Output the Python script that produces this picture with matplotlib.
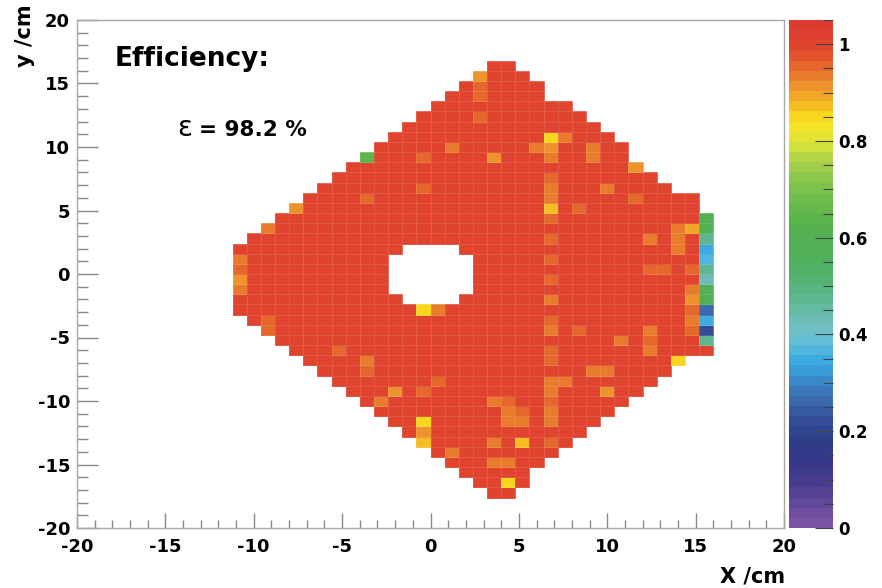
import numpy as np
import matplotlib
matplotlib.use("Agg")
import matplotlib.pyplot as plt
from matplotlib.colors import LinearSegmentedColormap, ListedColormap, Normalize
from matplotlib.ticker import MultipleLocator

plt.rcParams['font.family'] = ['DejaVu Sans']
plt.rcParams['axes.unicode_minus'] = False

# 50 x 50 bins of 0.8 cm over [-20, 20]
n_bins = 50
x_min, x_max = -20, 20
z_max = 1.05

# detector outline: filled rows (lowest, highest) for each column index
col_index = list(range(11, 45))
row_lo = [21, 20, 19, 18, 17, 16, 15, 14, 13, 12, 11, 10, 9, 8, 7, 6, 5, 4, 3, 3,
          4, 6, 7, 8, 9, 10, 11, 12, 13, 14, 15, 16, 17, 17]
row_hi = [27, 28, 29, 30, 31, 32, 33, 34, 35, 36, 37, 38, 39, 40, 41, 42, 43, 44, 45, 45,
          44, 43, 41, 41, 40, 39, 38, 37, 35, 34, 33, 32, 32, 30]

# central hole (beam pipe)
hole_col = [22, 23, 24, 25, 26, 27]
hole_lo = [23, 22, 22, 22, 22, 23]
hole_hi = [26, 27, 27, 27, 27, 26]

base_eff = 0.995

# cells that differ from full efficiency (column, row, efficiency)
cell_col = [44, 44, 44, 44, 44, 44, 44, 44, 44, 44, 44, 44, 44,
            43, 43, 43, 43, 43, 43, 43,
            42, 42, 42, 42,
            41, 40, 40, 40, 40, 40,
            39, 39, 38, 37, 37, 37, 36, 36, 36, 35, 35, 34, 34,
            33, 33, 33, 33, 33, 33, 33, 33, 33, 33, 33, 33, 33, 33, 33,
            33, 33, 33, 33, 33, 33, 33,
            32, 31, 31, 31, 30, 30, 30, 30, 30,
            29, 29, 29, 29, 28, 28, 28, 28,
            26, 26, 25, 25, 24, 24, 24, 24, 24, 24, 24,
            22, 21, 20, 20, 20, 20, 18, 15, 13, 13, 13,
            11, 11, 11, 11]
cell_row = [30, 29, 28, 27, 26, 25, 24, 23, 22, 21, 20, 19, 18,
            29, 25, 23, 22, 21, 20, 19,
            29, 28, 27, 16,
            25, 28, 25, 19, 18, 17,
            35, 32, 18, 33, 15, 13, 37, 36, 15, 31, 19, 38, 14,
            38, 37, 36, 34, 33, 32, 31, 30, 24, 22, 19, 14, 13, 11, 10,
            28, 26, 20, 17, 16, 12, 8,
            37, 11, 10, 8, 12, 11, 10, 6, 4,
            36, 12, 8, 6, 44, 43, 42, 40,
            37, 7, 21, 14, 36, 33, 21, 13, 10, 9, 8,
            13, 12, 36, 32, 16, 15, 17, 31, 29, 20, 19,
            26, 25, 24, 23]
cell_eff = [0.60, 0.59, 0.48, 0.35, 0.37, 0.47, 0.42, 0.58, 0.57, 0.27, 0.35, 0.22, 0.47,
            0.90, 0.95, 0.93, 0.91, 0.95, 0.93, 0.95,
            0.93, 0.93, 0.94, 0.85,
            0.95, 0.94, 0.95, 0.94, 0.96, 0.94,
            0.91, 0.95, 0.93, 0.93, 0.93, 0.92, 0.93, 0.93, 0.93, 0.96, 0.95, 0.94, 0.94,
            0.85, 0.92, 0.94, 0.95, 0.93, 0.93, 0.88, 0.95, 0.95, 0.93, 0.93, 0.94, 0.94, 0.93, 0.93,
            0.96, 0.96, 0.96, 0.96, 0.96, 0.96, 0.96,
            0.93, 0.95, 0.94, 0.87, 0.95, 0.94, 0.94, 0.93, 0.85,
            0.92, 0.94, 0.93, 0.93, 0.91, 0.95, 0.96, 0.96,
            0.93, 0.93, 0.93, 0.96, 0.96, 0.96, 0.86, 0.95, 0.85, 0.91, 0.88,
            0.92, 0.94, 0.65, 0.96, 0.93, 0.95, 0.95, 0.91, 0.93, 0.95, 0.95,
            0.94, 0.96, 0.92, 0.93]

# palette anchors
pal_pos = [0.00, 0.04, 0.08, 0.13, 0.18, 0.22, 0.26, 0.30, 0.33, 0.355, 0.38, 0.41,
           0.45, 0.50, 0.55, 0.62, 0.68, 0.73, 0.77, 0.80, 0.83, 0.855, 0.88, 0.91,
           0.94, 0.97, 1.00, 1.05]
pal_col = ['#7e56a6', '#6a4a9c', '#4e3e92', '#38388a', '#2e3c88', '#344e98', '#3a66ac',
           '#3a84c4', '#38a0dc', '#40b0e4', '#62bcd8', '#70c0c4', '#66baa4', '#56b47c',
           '#50b05c', '#52b04c', '#6cbc4c', '#90c84c', '#bcd846', '#dce43c', '#f4e42a',
           '#f8d41c', '#f4b424', '#ee962c', '#e8762c', '#e4582c', '#e0432e', '#dc3a30']

smooth = LinearSegmentedColormap.from_list(
    'pal', list(zip(np.array(pal_pos) / z_max, pal_col)))
cmap = ListedColormap(smooth((np.arange(50) + 0.5) / 50))
norm = Normalize(0, z_max)

edges = np.linspace(x_min, x_max, n_bins + 1)
eff = np.full((n_bins, n_bins), np.nan)  # [row, column]
for c, lo, hi in zip(col_index, row_lo, row_hi):
    eff[lo:hi + 1, c] = base_eff
for c, lo, hi in zip(hole_col, hole_lo, hole_hi):
    eff[lo:hi + 1, c] = np.nan
for c, r, v in zip(cell_col, cell_row, cell_eff):
    eff[r, c] = v

fig = plt.figure(figsize=(8.82, 5.88), dpi=100)
ax = fig.add_axes([77 / 882, 1 - 528 / 588, 707 / 882, 508 / 588])
cax = fig.add_axes([789 / 882, 1 - 528 / 588, 44 / 882, 508 / 588])

mesh = ax.pcolormesh(edges, edges, np.ma.masked_invalid(eff), cmap=cmap, norm=norm,
                     edgecolors=(1, 1, 1, 0.12), linewidth=0.5)

ax.set_xlim(x_min, x_max)
ax.set_ylim(x_min, x_max)
ax.xaxis.set_major_locator(MultipleLocator(5))
ax.yaxis.set_major_locator(MultipleLocator(5))
ax.xaxis.set_minor_locator(MultipleLocator(1))
ax.yaxis.set_minor_locator(MultipleLocator(1))
ax.tick_params(which='both', direction='in', top=False, right=False, color='#888888',
               labelsize=13, width=1)
ax.tick_params(axis='x', which='major', length=10.5, pad=7)
ax.tick_params(axis='x', which='minor', length=5.5)
ax.tick_params(axis='y', which='major', length=15, pad=5)
ax.tick_params(axis='y', which='minor', length=8)
for lab in ax.get_xticklabels() + ax.get_yticklabels():
    lab.set_fontweight('bold')
for sp in ax.spines.values():
    sp.set_color('#a8a8a8')
    sp.set_linewidth(1)

cbar = fig.colorbar(mesh, cax=cax)
cbar.outline.set_visible(False)
cbar.set_ticks([0, 0.2, 0.4, 0.6, 0.8, 1.0])
cbar.set_ticklabels(['0', '0.2', '0.4', '0.6', '0.8', '1'])
cax.yaxis.set_minor_locator(MultipleLocator(0.05))
cax.tick_params(which='both', direction='in', right=True, color='#444444', width=0.8,
                labelsize=12, pad=4)
cax.tick_params(which='major', length=13)
cax.tick_params(which='minor', length=7)
for lab in cax.get_yticklabels():
    lab.set_fontweight('bold')

fig.text(25 / 882, 1 - 4 / 588, 'y /cm', rotation=90, ha='center', va='top',
         fontsize=15, fontweight='bold')
fig.text(785 / 882, 1 - 577 / 588, 'X /cm', ha='right', va='center',
         fontsize=15, fontweight='bold')

fig.text(115 / 882, 1 - 66 / 588, 'Efficiency:', ha='left', va='baseline',
         fontsize=19, fontweight='bold')
fig.text(177 / 882, 1 - 136 / 588, 'ε', ha='left', va='baseline', fontsize=20)
fig.text(199 / 882, 1 - 136 / 588, '= 98.2 %', ha='left', va='baseline',
         fontsize=15.5, fontweight='bold')

fig.savefig('out.png', dpi=100)
